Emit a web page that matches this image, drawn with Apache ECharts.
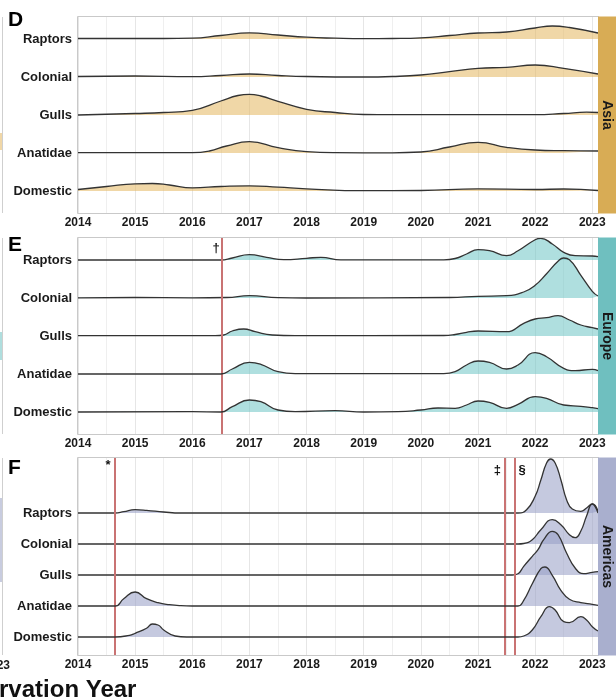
<!DOCTYPE html>
<html><head><meta charset="utf-8">
<script src="https://cdn.jsdelivr.net/npm/echarts@6/dist/echarts.min.js"></script>
<style>html,body{margin:0;padding:0;background:#fff}#c{width:616px;height:698px}</style>
</head><body><div id="c"></div>
<script>
// ---- data (heights above each ridge baseline) ----
const categories = ['Raptors','Colonial','Gulls','Anatidae','Domestic'];
const regions = ['Asia','Europe','Americas'];
const panelLetters = ['D','E','F'];
const xTicks = [2014,2015,2016,2017,2018,2019,2020,2021,2022,2023];

const asiaRaptors = [[2014,0.5],[2015,0.5],[2015.5,0.5],[2016,0.8],[2016.5,3.5],[2017,6.2],[2017.5,4],[2018,1.8],[2018.5,0.8],[2019,0.3],[2019.5,0.5],[2020,1.2],[2020.5,3.5],[2021,6],[2021.5,7],[2022,11],[2022.3,13],[2022.6,11.5],[2023.1,6]];
const asiaColonial = [[2014,0.5],[2015,1],[2016,0.3],[2016.5,1.5],[2017,3],[2017.5,1.5],[2018,0.5],[2019,0],[2019.5,0.5],[2020,2],[2020.5,5.3],[2021,8.7],[2021.5,9.7],[2022,12],[2022.5,8.7],[2023.1,3]];
const asiaGulls = [[2014,0],[2015,1.5],[2015.5,2.5],[2016,4.7],[2016.5,14],[2016.8,19.5],[2017,20.7],[2017.2,19],[2017.5,13.7],[2018,5.7],[2018.5,2.5],[2019,0.5],[2019.5,0.3],[2022,0.3],[2022.5,1.5],[2022.9,2.8],[2023.1,2.5]];
const asiaAnatidae = [[2014,0.3],[2016,0.3],[2016.3,2],[2016.6,7],[2017,11.3],[2017.5,5.3],[2018,1.3],[2018.5,0.3],[2019.5,0.2],[2020,1],[2020.5,6],[2021,10.7],[2021.5,5.7],[2022,3],[2022.5,2.3],[2023.1,2]];
const asiaDomestic = [[2014,1.5],[2014.5,4.5],[2015,7.2],[2015.3,7.5],[2015.6,6],[2016,3.2],[2016.5,4.5],[2017,5.2],[2017.5,3.8],[2018,2.2],[2019,0.3],[2020,0.5],[2021,2.2],[2022,1.5],[2022.5,2],[2023.1,0.5]];

const euRaptors = [[2014,0],[2016.5,0],[2016.7,2],[2017,5.3],[2017.3,2.7],[2017.6,0.3],[2018,1.7],[2018.25,2.7],[2018.6,0.2],[2020.4,0.2],[2020.6,1.5],[2020.8,6],[2021,10.3],[2021.2,9.3],[2021.5,4.3],[2021.7,9.3],[2022,20.3],[2022.1,21.7],[2022.3,16],[2022.5,7.7],[2022.7,4.3],[2023,4],[2023.1,3.3]];
const euColonial = [[2014,0.2],[2015,0.5],[2016,0.2],[2016.6,0.5],[2017,2.3],[2017.5,0.3],[2018,0],[2020.5,0.5],[2021,1.7],[2021.5,2.3],[2021.8,6],[2022,12.7],[2022.2,24.3],[2022.4,36.7],[2022.5,40],[2022.6,38.3],[2022.8,22.7],[2023,6.7],[2023.1,2]];
const euGulls = [[2014,0.3],[2016.4,0.3],[2016.55,1],[2016.7,5],[2016.9,7],[2017.1,4.3],[2017.4,1],[2017.8,0.3],[2020.4,0.5],[2020.6,1.5],[2020.8,3.7],[2021,5],[2021.5,4.3],[2021.8,12.7],[2022,17],[2022.2,18.3],[2022.4,20.3],[2022.6,16],[2022.8,11],[2023,8.3],[2023.1,7]];
const euAnatidae = [[2014,0],[2016.5,0],[2016.7,5],[2017,11.7],[2017.2,9.7],[2017.5,2.3],[2017.8,0.3],[2020.4,0.3],[2020.6,2.3],[2020.8,9],[2021,13],[2021.2,11.7],[2021.5,5],[2021.7,9],[2022,21.3],[2022.2,17.3],[2022.5,5.7],[2022.7,3.3],[2023,4.7],[2023.1,3.3]];
const euDomestic = [[2014,0],[2016,0.3],[2016.5,0],[2016.7,5.3],[2017,12],[2017.2,10.3],[2017.5,2],[2017.8,0.3],[2018.5,1.3],[2019,0],[2019.6,0.3],[2020,2],[2020.3,4],[2020.6,3.7],[2020.8,7],[2021,11],[2021.2,9.7],[2021.5,3.7],[2021.7,7.7],[2022,15.3],[2022.2,13.7],[2022.5,7],[2022.8,5.7],[2023,4.3],[2023.1,3.3]];

const amRaptors = [[2014,0],[2014.65,0],[2014.8,1.3],[2015,3.3],[2015.2,2.7],[2015.5,1],[2015.8,0],[2021.7,0],[2021.85,3.3],[2022,16.7],[2022.1,33],[2022.2,50],[2022.27,54],[2022.35,50],[2022.45,33.3],[2022.55,13.3],[2022.65,4],[2022.8,1.7],[2022.9,5],[2023,9],[2023.1,2]];
const amColonial = [[2014,0],[2021.7,0],[2021.8,0.5],[2021.95,4.3],[2022.1,14.3],[2022.3,24.3],[2022.45,19.3],[2022.6,9.3],[2022.7,6.3],[2022.8,13],[2022.9,28],[2023,40],[2023.1,31]];
const amGulls = [[2014,0],[2021.6,0],[2021.7,1.3],[2021.8,8.7],[2021.95,18.7],[2022.05,25.3],[2022.15,35.3],[2022.3,43.7],[2022.4,40.3],[2022.55,22],[2022.7,7],[2022.85,1.3],[2023,2.7],[2023.1,3.3]];
const amAnatidae = [[2014,0],[2014.65,0],[2014.8,7.3],[2015,14],[2015.2,7.3],[2015.4,3.3],[2015.6,1.3],[2015.8,0.3],[2016,0],[2021.7,0],[2021.8,5.7],[2021.95,22.3],[2022.1,37.3],[2022.17,39],[2022.3,30.7],[2022.45,15.7],[2022.6,6.7],[2022.8,3.3],[2023,1.7],[2023.1,0.7]];
const amDomestic = [[2014,0],[2014.65,0],[2014.9,1.7],[2015,3.7],[2015.2,8.7],[2015.3,13],[2015.4,12],[2015.5,7],[2015.7,1],[2015.9,0],[2021.7,0],[2021.8,1],[2021.95,7],[2022.1,20.3],[2022.25,30.3],[2022.35,27],[2022.5,15.3],[2022.6,14.3],[2022.8,20.3],[2022.9,17],[2023,10.3],[2023.1,6]];

const euEvents = [2016.52];
const euEventMarks = ['†'];
const amEvents = [2014.65, 2021.46, 2021.65];
const amEventMarks = ['*','‡','§'];

// ---- layout / style ----
const panelSeries = [
  [asiaRaptors, asiaColonial, asiaGulls, asiaAnatidae, asiaDomestic],
  [euRaptors, euColonial, euGulls, euAnatidae, euDomestic],
  [amRaptors, amColonial, amGulls, amAnatidae, amDomestic]
];
const baselines = [[174,136,98,60,22],[174,136,98,60,22],[142,111,80,49,18]];
const yMax = [196,196,197];
const grids = [
  {left:78, right:18, top:17, height:196},
  {left:78, right:18, top:238, height:196},
  {left:78, right:18, top:458, height:197}
];
const fills = ['rgba(227,182,95,0.55)','rgba(110,196,196,0.55)','rgba(150,156,196,0.55)'];
const stripColors = ['#D8AC55','#6FBFBF','#A9AFCE'];
const FONT = 'Liberation Sans, Arial, Helvetica, sans-serif';

const xAxes = [], yAxes = [], series = [];
grids.forEach((g, p) => {
  xAxes.push({
    type:'value', gridIndex:p, min:2014, max:2023.1, interval:1,
    axisLine:{show:false}, axisTick:{show:false},
    axisLabel:{show:true, margin:4, color:'#1a1a1a', fontSize:12, fontWeight:'bold', fontFamily:FONT,
      formatter: v => xTicks.includes(Math.round(v)) && Math.abs(v-Math.round(v))<1e-6 ? String(Math.round(v)) : ''},
    splitLine:{show:true, lineStyle:{color:'#e6e6e6', width:1}},
    minorTick:{show:false, splitNumber:2},
    minorSplitLine:{show:true, lineStyle:{color:'#efefef', width:1}}
  });
  const b = baselines[p];
  yAxes.push({
    type:'value', gridIndex:p, min:0, max:yMax[p], interval:1,
    axisLine:{show:false}, axisTick:{show:false}, splitLine:{show:false},
    axisLabel:{show:true, margin:6, color:'#1a1a1a', fontSize:13, fontWeight:'bold', fontFamily:FONT,
      formatter: v => { const i = b.indexOf(Math.round(v)); return i>=0 ? categories[i] : ''; }}
  });
  panelSeries[p].forEach((pts, k) => {
    const base = b[k];
    series.push({
      type:'line', xAxisIndex:p, yAxisIndex:p, name: regions[p]+' '+categories[k],
      data: pts.map(d => [d[0], base + d[1]]),
      symbol:'none', smooth:0.5, silent:true,
      lineStyle:{color:'#333', width:1.3},
      areaStyle:{origin: base, color: fills[p], opacity:1},
      z: 2 + k
    });
  });
});

function eventSeries(p, events, marks, yVal, offsets) {
  return {
    type:'line', xAxisIndex:p, yAxisIndex:p, data:[], silent:true, z:20,
    markLine:{ silent:true, symbol:['none','none'], label:{show:false},
      lineStyle:{color:'#C97373', width:2, type:'solid'},
      data: events.map(x => ({xAxis:x})) },
    markPoint:{ silent:true, symbol:'rect', symbolSize:1, itemStyle:{color:'rgba(0,0,0,0)'},
      label:{show:true, position:'inside', color:'#111', fontSize:13, fontWeight:'bold', fontFamily:FONT},
      data: events.map((x,i) => ({coord:[x, yVal[i]], label:{formatter: marks[i], offset:[offsets[i],0]}})) }
  };
}
series.push(eventSeries(1, euEvents, euEventMarks, [186], [-6]));
series.push(eventSeries(2, amEvents, amEventMarks, [190,185,185], [-7,-7,7]));

const graphic = [];
grids.forEach((g, p) => {
  graphic.push({type:'rect', silent:true, z:30, shape:{x:g.left-0.5, y:g.top-0.5, width:616-g.left-g.right+1, height:g.height+1},
    style:{fill:'none', stroke:'#c9c9c9', lineWidth:1}});
  graphic.push({type:'rect', silent:true, z:30, shape:{x:616-g.right, y:g.top-0.5, width:g.right+2, height:g.height+1},
    style:{fill:stripColors[p]}});
  graphic.push({type:'text', silent:true, z:31, x:616-g.right/2, y:g.top+g.height/2, rotation:-Math.PI/2,
    style:{text:regions[p], fill:'#1a1a1a', font:'bold 14px '+FONT, align:'center', verticalAlign:'middle'}});
  graphic.push({type:'text', silent:true, z:31, x:8, y:[10,235,458][p],
    style:{text:panelLetters[p], fill:'#000', font:'bold 21px '+FONT, align:'left', verticalAlign:'top'}});
  graphic.push({type:'line', silent:true, z:30, shape:{x1:2.5, y1:g.top, x2:2.5, y2:g.top+g.height},
    style:{stroke:'#cfcfcf', lineWidth:1}});
});
graphic.push({type:'rect', silent:true, shape:{x:0,y:133,width:2,height:17}, style:{fill:'#F0D7A7'}});
graphic.push({type:'rect', silent:true, shape:{x:0,y:332,width:2,height:28}, style:{fill:'#AFDEDE'}});
graphic.push({type:'rect', silent:true, shape:{x:0,y:498,width:2,height:84}, style:{fill:'#C8CCDF'}});
graphic.push({type:'text', silent:true, x:10, y:666,
  style:{text:'23', fill:'#1a1a1a', font:'bold 12px '+FONT, align:'right', verticalAlign:'middle'}});
graphic.push({type:'text', silent:true, x:-61, y:702,
  style:{text:'Observation Year', fill:'#111', font:'bold 24px '+FONT, align:'left', verticalAlign:'bottom'}});

const chart = echarts.init(document.getElementById('c'), null, {renderer:'canvas'});
chart.setOption({
  animation:false,
  backgroundColor:'#fff',
  grid: grids,
  xAxis: xAxes,
  yAxis: yAxes,
  series: series,
  graphic: graphic
});
</script></body></html>
